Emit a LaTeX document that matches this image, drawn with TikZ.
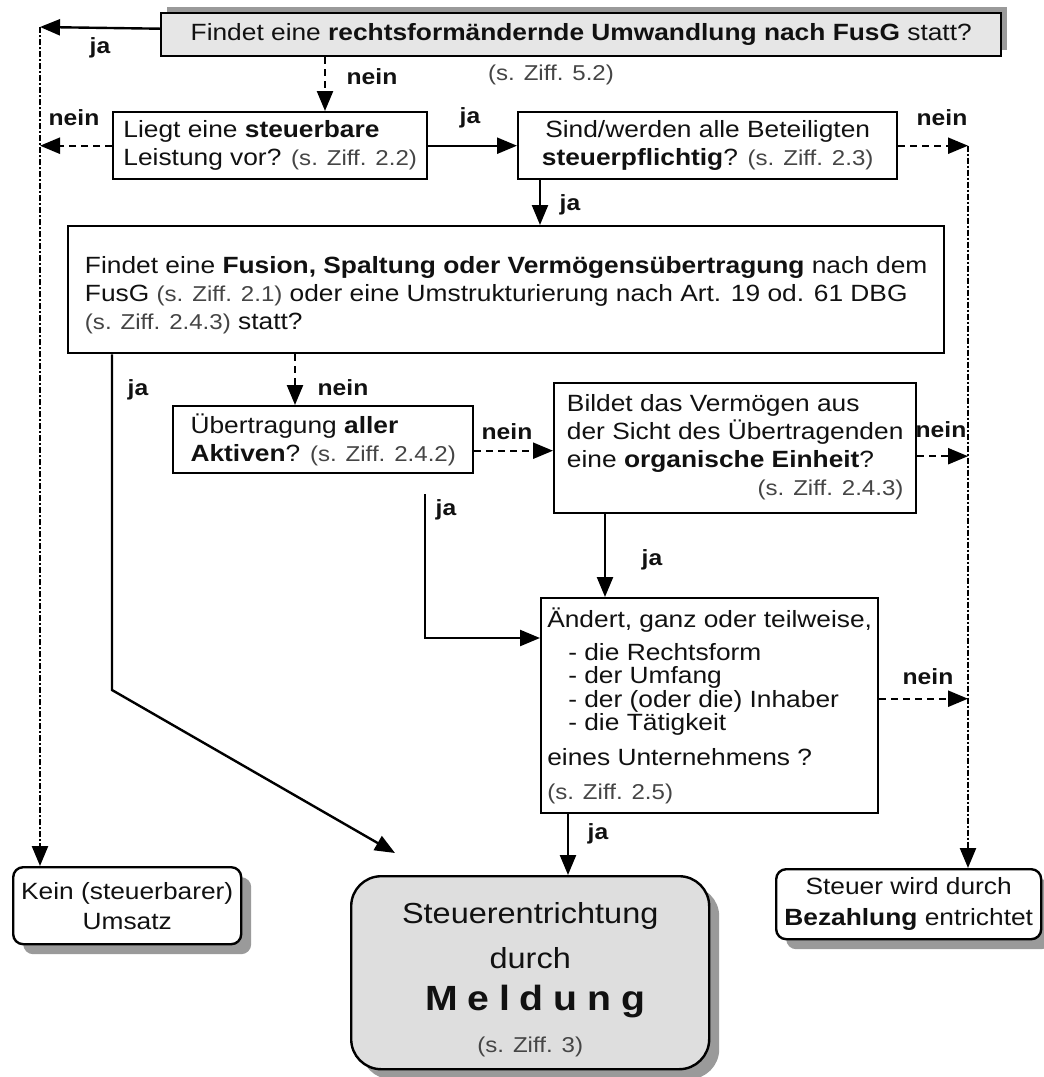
\documentclass[tikz,border=0pt]{standalone}
\usepackage{fontspec}
\setmainfont{Liberation Sans}[FakeStretch=1.12]
\usetikzlibrary{arrows.meta,shadows,calc}
\definecolor{txt}{HTML}{111111}
\definecolor{par}{HTML}{454545}
\definecolor{fillA}{HTML}{E6E6E6}
\definecolor{fillB}{HTML}{DEDEDE}
\definecolor{shd}{HTML}{9A9A9A}
\newcommand\pz[1]{{\fontsize{21.5}{24}\selectfont\color{par}#1}}
\begin{document}
\begin{tikzpicture}[x=1pt,y=-1pt,
  box/.style={draw=black, line width=2.4pt, text=txt, font=\fontsize{23.5}{28}\selectfont, inner sep=0pt, anchor=north west, align=left},
  shadowA/.style={drop shadow={shadow xshift=6pt, shadow yshift=6pt, fill=shd, opacity=1}},
  shadowB/.style={drop shadow={shadow xshift=10pt, shadow yshift=-10pt, fill=shd, opacity=1}},
  arr/.style={-{Triangle[length=20pt,width=16pt]}, line width=2.4pt},
  dsh/.style={dash pattern=on 7pt off 5pt},
  dd/.style={line width=2.6pt, dash pattern=on 6pt off 2pt on 2pt off 2pt},
  lbl/.style={font=\fontsize{22}{24}\selectfont\bfseries, text=txt, inner sep=0pt},
]
\fill[white] (0,0) rectangle (1044,1077);
\useasboundingbox (0,0) rectangle (1044,1077);

% boxes
\node[box, fill=fillA, shadowA, minimum width=840pt, minimum height=43pt, align=center] (top) at (160,12)
  {Findet eine \textbf{rechtsformändernde Umwandlung nach FusG} statt?};
\node[text=par, font=\fontsize{21.5}{24}\selectfont, inner sep=0pt] (topref) at (551,75) {(s. Ziff. 5.2)};

\node[box, minimum width=314pt, minimum height=67pt] (liegt) at (112,111)
  {Liegt eine \textbf{steuerbare}\\ Leistung vor? \pz{(s. Ziff. 2.2)}};

\node[box, minimum width=379pt, minimum height=67pt, align=center] (sind) at (517,111)
  {Sind/werden alle Beteiligten\\ \textbf{steuerpflichtig}? \pz{(s. Ziff. 2.3)}};

\node[box, minimum width=876pt, minimum height=127pt] (big) at (67,225)
  {\rule{0pt}{28pt}Findet eine \textbf{Fusion, Spaltung oder Vermögensübertragung} nach dem\\
   FusG \pz{(s. Ziff. 2.1)} oder eine Umstrukturierung nach Art. 19 od. 61 DBG\\
   \pz{(s. Ziff. 2.4.3)} statt?};

\node[box, minimum width=300pt, minimum height=67pt] (ue) at (172,405)
  {Übertragung \textbf{aller}\\ \textbf{Aktiven}? \pz{(s. Ziff. 2.4.2)}};

\node[box, minimum width=362pt, minimum height=130pt] (bildet) at (553,382)
  {\begin{tabular}{@{}l@{}}Bildet das Vermögen aus\\ der Sicht des Übertragenden\\ eine \textbf{organische Einheit}?\\ \multicolumn{1}{@{}r@{}}{\pz{(s. Ziff. 2.4.3)}}\end{tabular}};

\node[box, minimum width=337pt, minimum height=215pt] (aend) at (540,597)
  {Ändert, ganz oder teilweise,\\[5pt]
   \hspace*{21pt}- die Rechtsform\\[-4.5pt]
   \hspace*{21pt}- der Umfang\\[-4.5pt]
   \hspace*{21pt}- der (oder die) Inhaber\\[-4.5pt]
   \hspace*{21pt}- die Tätigkeit\\[7pt]
   eines Unternehmens ?\\[6pt]
   \pz{(s. Ziff. 2.5)}};

\node[box, fill=white, shadowB, rounded corners=10pt, minimum width=228pt, minimum height=77pt, align=center, font=\fontsize{23.5}{30}\selectfont] (kein) at (12,866)
  {Kein (steuerbarer)\\ Umsatz};

\node[box, fill=fillB, shadowB, rounded corners=30pt, minimum width=358pt, minimum height=193pt, align=center, font=\fontsize{29}{45}\selectfont] (meld) at (350,875)
  {\rule{0pt}{36pt}Steuerentrichtung\\ durch\\[-3pt]
   {\fontsize{35}{40}\selectfont\bfseries\addfontfeatures{LetterSpace=28}Meldung\kern-10pt}\\[-3pt]
   \pz{(s. Ziff. 3)}};

\node[box, fill=white, shadowB, rounded corners=10pt, minimum width=265pt, minimum height=70pt, align=center, font=\fontsize{23.5}{31}\selectfont] (bez) at (775,868)
  {Steuer wird durch\\ \textbf{Bezahlung} entrichtet};

% coordinates
\coordinate (L) at (40,27);
\coordinate (R) at (sind.east -| 968,0);
\coordinate (bj) at (112,690);
\coordinate (mtip) at (395,853);
\coordinate (uj1) at (425,494);
\coordinate (uj2) at (540,638);
\coordinate (ue1) at ([yshift=-11pt]ue.east);
\coordinate (bi1) at ([yshift=-8pt]bildet.east);
\coordinate (ae1) at ([yshift=7pt]aend.east);

% connectors
\draw[arr] ([yshift=6pt]top.west) -- (L);
\draw[dd, arr] (L) -- (L |- kein.north);
\draw[arr, dsh] (top.south -| 325,0) -- (liegt.north -| 325,0);
\draw[arr, dsh] (liegt.west) -- (liegt.west -| L);
\draw[arr] (liegt.east) -- (sind.west);
\draw[arr, dsh] (sind.east) -- (R);
\draw[dd, arr] (R) -- (R |- bez.north);
\draw[arr] (sind.south -| 540,0) -- (big.north -| 540,0);
\draw[arr] (big.south -| bj) -- (bj) -- (mtip);
\draw[arr, dsh] (big.south -| 295,0) -- (ue.north -| 295,0);
\draw[arr, dsh] (ue1) -- (ue1 -| bildet.west);
\draw[arr, dsh] (bi1) -- (bi1 -| R);
\draw[arr] (uj1) |- (uj2 -| aend.west);
\draw[arr] (bildet.south -| 605,0) -- (aend.north -| 605,0);
\draw[arr, dsh] (ae1) -- (ae1 -| R);
\draw[arr] (aend.south -| 568,0) -- (meld.north -| 568,0);

% labels
\node[lbl] (l1) at (100,48) {ja};
\node[lbl] (l2) at (372,77) {nein};
\node[lbl] (l3) at (74,118) {nein};
\node[lbl] (l4) at (470,118) {ja};
\node[lbl] (l5) at (942,118) {nein};
\node[lbl] (l6) at (570,205) {ja};
\node[lbl] (l7) at (138,390) {ja};
\node[lbl] (l8) at (343,388) {nein};
\node[lbl] (l9) at (507,432) {nein};
\node[lbl] (l10) at (941,430) {nein};
\node[lbl] (l11) at (446,510) {ja};
\node[lbl] (l12) at (652,560) {ja};
\node[lbl] (l13) at (928,677) {nein};
\node[lbl] (l14) at (598,834) {ja};
\end{tikzpicture}
\end{document}
